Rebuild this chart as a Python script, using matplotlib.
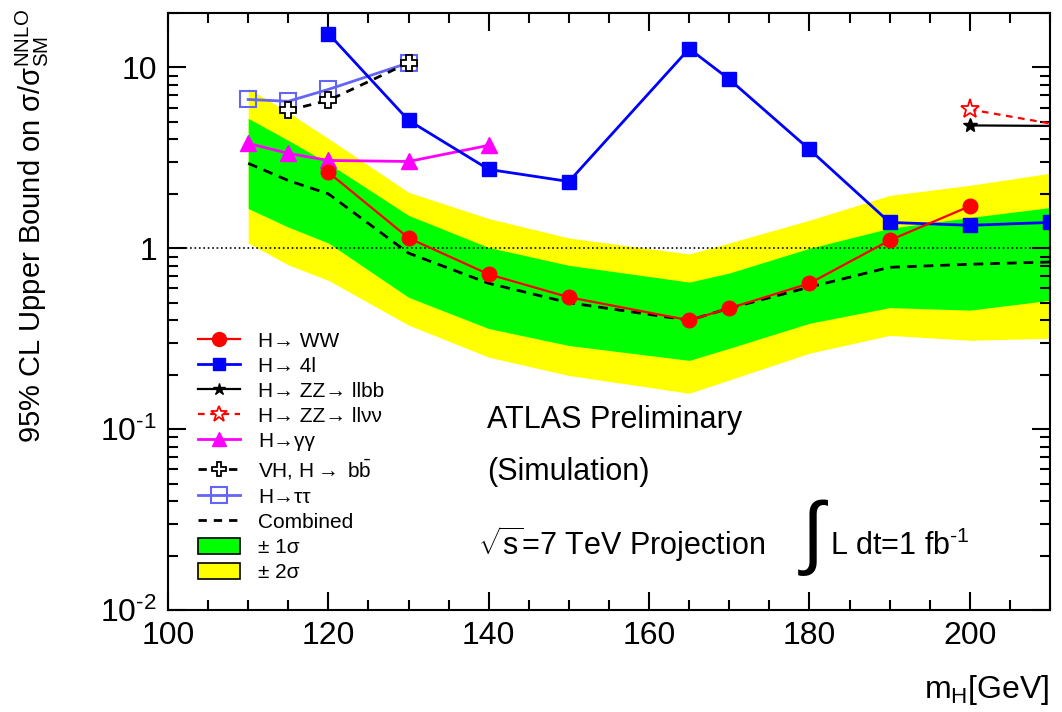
import matplotlib
matplotlib.use("Agg")
import matplotlib.pyplot as plt
from matplotlib.lines import Line2D
from matplotlib.patches import Patch
from matplotlib.ticker import MultipleLocator, LogLocator, NullFormatter

plt.rcParams['font.family'] = ['Liberation Sans', 'DejaVu Sans']
plt.rcParams['mathtext.fontset'] = 'custom'
plt.rcParams['mathtext.rm'] = 'Liberation Sans'
plt.rcParams['mathtext.it'] = 'Liberation Sans:italic'
plt.rcParams['mathtext.bf'] = 'Liberation Sans:bold'

# expected limits
band_m = [110, 115, 120, 130, 140, 150, 165, 170, 180, 190, 200, 210]
comb = [2.95, 2.37, 2.0, 0.94, 0.64, 0.50, 0.40, 0.466, 0.61, 0.785, 0.816, 0.84]
s1_hi = [5.23, 3.95, 2.95, 1.52, 1.01, 0.805, 0.65, 0.73, 1.0, 1.29, 1.48, 1.68]
s1_lo = [1.66, 1.31, 1.07, 0.536, 0.36, 0.29, 0.24, 0.28, 0.385, 0.47, 0.455, 0.516]
s2_hi = [7.67, 5.64, 4.05, 2.04, 1.46, 1.14, 0.93, 1.07, 1.43, 1.96, 2.23, 2.6]
s2_lo = [1.07, 0.81, 0.665, 0.376, 0.25, 0.198, 0.158, 0.187, 0.263, 0.33, 0.31, 0.318]

ww_m = [120, 130, 140, 150, 165, 170, 180, 190, 200]
ww = [2.63, 1.14, 0.718, 0.536, 0.40, 0.466, 0.64, 1.107, 1.71]

h4l_m = [120, 130, 140, 150, 165, 170, 180, 190, 200, 210]
h4l = [15.4, 5.1, 2.73, 2.34, 12.7, 8.6, 3.52, 1.39, 1.34, 1.39]

llbb_m = [200, 210]
llbb = [4.78, 4.75]

llvv_m = [200, 210]
llvv = [5.86, 4.9]

gg_m = [110, 115, 120, 130, 140]
gg = [3.8, 3.35, 3.06, 3.02, 3.71]

vh_m = [115, 120, 130]
vh = [5.8, 6.57, 10.6]

tt_m = [110, 115, 120, 130]
tt = [6.65, 6.5, 7.56, 10.6]

tau_col = '#6464f5'

fig = plt.figure(figsize=(10.62, 7.12), dpi=100)
ax = fig.add_axes([168/1062, 102/712, 882/1062, 597/712])

ax.fill_between(band_m, s2_lo, s2_hi, color='#ffff00', lw=0)
ax.fill_between(band_m, s1_lo, s1_hi, color='#00ff00', lw=0)
ax.axhline(1, color='k', ls=':', lw=1.2)
ax.plot(band_m, comb, color='k', ls='--', lw=2, dashes=(3.5, 2.5))

ax.plot(tt_m, tt, color=tau_col, lw=2, marker='s', ms=11, mfc='none', mec=tau_col, mew=1.5)
ax.plot(vh_m, vh, color='k', lw=2, ls='--', dashes=(3, 2.5), marker='P', ms=11, mfc='white', mec='k', mew=1.3)
ax.plot(gg_m, gg, color='#ff00ff', lw=2, marker='^', ms=11)
ax.plot(h4l_m, h4l, color='#0000ff', lw=2, marker='s', ms=10.5)
ax.plot(ww_m, ww, color='#ff0000', lw=1.6, marker='o', ms=10.5)
ax.plot(llbb_m, llbb, color='k', lw=1.6, marker='*', ms=10, markevery=[0])
ax.plot(llvv_m, llvv, color='#ff0000', lw=1.6, ls='--', dashes=(3, 2.5), marker='*', ms=14,
        mfc='white', mec='#ff0000', mew=1.3, markevery=[0])

ax.set_xlim(100, 210)
ax.set_yscale('log')
ax.set_ylim(0.01, 20)

ax.xaxis.set_major_locator(MultipleLocator(20))
ax.xaxis.set_minor_locator(MultipleLocator(5))
ax.set_yticks([0.01, 0.1, 1, 10], labels=[r'$10^{\text{-}2}$', r'$10^{\text{-}1}$', '1', '10'])
ax.yaxis.set_minor_locator(LogLocator(base=10, subs=range(2, 10)))
ax.yaxis.set_minor_formatter(NullFormatter())
ax.tick_params(which='both', direction='in', top=True, right=True, width=1.5, labelsize=23)
ax.tick_params(which='major', length=13, pad=8)
ax.tick_params(which='minor', length=7)
for sp in ax.spines.values():
    sp.set_linewidth(1.5)

fig.text(1050/1062, 14/712, r'm$_{\rm H}$[GeV]', ha='right', va='baseline', fontsize=23)
fig.text(32/1062, 1 - 443/712, r'95% CL Upper Bound on σ/σ$_{\rm SM}^{\rm NNLO}$',
         rotation=90, ha='center', va='bottom', fontsize=21)

ax.text(0.3617, 0.305, 'ATLAS Preliminary', transform=ax.transAxes, fontsize=22, va='baseline')
ax.text(0.3617, 0.218, '(Simulation)', transform=ax.transAxes, fontsize=22, va='baseline')
ax.text(0.352, 0.092, r'$\sqrt{\rm s}$=7 TeV Projection', transform=ax.transAxes, fontsize=22, va='baseline')
ax.text(0.714, 0.122, r'$\int$', transform=ax.transAxes, fontsize=58, va='center')
ax.text(0.7506, 0.092, r'L dt=1 fb$^{\text{-}1}$', transform=ax.transAxes, fontsize=22, va='baseline')

handles = [
    Line2D([], [], color='#ff0000', lw=1.6, marker='o', ms=10),
    Line2D([], [], color='#0000ff', lw=2, marker='s', ms=9),
    Line2D([], [], color='k', lw=1.6, marker='*', ms=9),
    Line2D([], [], color='#ff0000', lw=1.6, ls='--', dashes=(3, 2.5), marker='*', ms=12, mfc='white', mew=1.3),
    Line2D([], [], color='#ff00ff', lw=2, marker='^', ms=10),
    Line2D([], [], color='k', lw=2, ls='--', dashes=(3, 2.5), marker='P', ms=10, mfc='white', mew=1.3),
    Line2D([], [], color=tau_col, lw=2, marker='s', ms=11, mfc='none', mew=1.5),
    Line2D([], [], color='k', lw=2, ls='--', dashes=(3, 2.5)),
    Patch(facecolor='#00ff00', edgecolor='k', lw=1.2),
    Patch(facecolor='#ffff00', edgecolor='k', lw=1.2),
]
labels = ['H\u2192 WW', 'H\u2192 4l', 'H\u2192 ZZ\u2192 llbb', 'H\u2192 ZZ\u2192 ll\u03bd\u03bd',
          'H\u2192\u03b3\u03b3', r'VH, H$\rightarrow$ b$\bar{\rm b}$', 'H\u2192\u03c4\u03c4', 'Combined',
          '\u00b1 1\u03c3', '\u00b1 2\u03c3']
ax.legend(handles, labels, loc='upper left', bbox_to_anchor=(198/1062, 1 - 331/712),
          bbox_transform=fig.transFigure, frameon=False, fontsize=15, borderpad=0,
          borderaxespad=0, handlelength=2.0, handleheight=0.85, handletextpad=0.9,
          labelspacing=0.27)

fig.savefig('out.png', dpi=100)
